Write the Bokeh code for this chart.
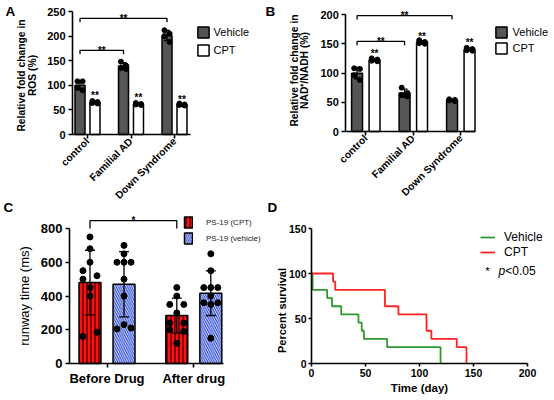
import numpy as np
from bokeh.plotting import figure
from bokeh.models import (ColumnDataSource, Whisker, TeeHead, FixedTicker, Legend,
                          LegendItem, Label, Range1d)
from bokeh.layouts import row, column
from bokeh.embed import file_html
from bokeh.resources import INLINE
from bokeh.core.properties import value

FONT = "Liberation Sans"
FONT_V = value(FONT)

# ---------------- data ----------------
cell_lines = ["control", "Familial AD", "Down Syndrome"]
ros_vehicle = [[108, 108, 95, 90], [148, 140, 135, 133], [212, 205, 200, 188]]
ros_cpt = [[68, 66, 64, 63], [64, 62, 61, 60], [63, 61, 60, 59]]
nad_vehicle = [[108, 107, 96, 88], [75, 66, 62, 60], [55, 54, 53, 52]]
nad_cpt = [[125, 123, 121, 120], [156, 153, 151, 150], [143, 141, 139, 138]]
ros_ticks = [0, 50, 100, 150, 200, 250]
nad_ticks = [0, 50, 100, 150, 200]
# significance: (group a, group b, bracket level) between vehicle bars; CPT star levels
ros_brackets = [(1, 3, 236), (1, 2, 171)]
ros_star_y = [80, 76, 72]
nad_brackets = [(1, 3, 198), (1, 2, 154)]
nad_star_y = [133, 163, 152]

phases = ["Before Drug", "After drug"]
runway_cpt = [[750, 680, 600, 550, 520, 500, 450, 400, 160, 185],
              [450, 400, 350, 350, 300, 240, 240, 200, 190, 120]]
runway_vehicle = [[700, 650, 600, 600, 600, 500, 400, 230, 205, 210],
                  [650, 550, 450, 450, 450, 400, 360, 360, 350, 150]]
runway_ticks = [0, 200, 400, 600, 800]
runway_bracket = 847

veh_days = [0, 1, 14.5, 19, 27.5, 43.5, 46.5, 48.5, 70, 119.5]
veh_surv = [100, 81.8, 72.7, 63.6, 54.5, 45.5, 36.4, 27.3, 18.2, 0]
cpt_days = [0, 20, 22, 68, 80.5, 106.5, 111, 134.5, 143.5]
cpt_surv = [100, 90.9, 81.8, 63.6, 54.5, 36.4, 27.3, 18.2, 0]
surv_xticks = [0, 50, 100, 150, 200]
surv_yticks = [0, 50, 100, 150]

# jitter slots for the dots (layout only)
jit4 = [-1, 1, -1, 1]
c_slots_cpt = [[0, 0, 0, -1, 1, -1, 0, 0, -1, 1], [0, 0, -1, 1, 0, -1, 1, -1, 1, 0]]
c_slots_veh = [[0, 0, -1, 0, 1, 0, 0, 0, -1, 1], [0, 0, -1, 0, 1, 0, -1, 1, 0, 0]]


class Geo:
    """pixel <-> data mapping of a panel whose frame fills the whole canvas"""
    def __init__(self, W, H, x_px, x_val, x_ppu, y_px, y_val, y_ppu):
        self.W, self.H = W, H
        self.x_px, self.x_val, self.x_ppu = x_px, x_val, x_ppu
        self.y_px, self.y_val, self.y_ppu = y_px, y_val, y_ppu

    def X(self, px):
        return self.x_val + (px - self.x_px) / self.x_ppu

    def Y(self, py):
        return self.y_val + (self.y_px - py) / self.y_ppu

    def fig(self):
        p = figure(width=self.W, height=self.H,
                   x_range=Range1d(self.X(0), self.X(self.W)),
                   y_range=Range1d(self.Y(self.H), self.Y(0)), title=None,
                   output_backend="svg", toolbar_location=None, min_border=0,
                   min_border_left=0, min_border_right=0, min_border_top=0,
                   min_border_bottom=0, background_fill_color="white",
                   border_fill_color="white")
        p.outline_line_color = None
        p.grid.visible = False
        for ax in p.axis:
            ax.axis_line_width = 1.6
            ax.axis_line_color = "black"
            ax.major_tick_line_width = 1.6
            ax.major_tick_line_color = "black"
            ax.major_tick_out = 4
            ax.major_tick_in = 0
            ax.minor_tick_out = 0
            ax.minor_tick_in = 0
            ax.major_label_text_font = FONT
            ax.major_label_text_font_style = "bold"
            ax.major_label_text_color = "black"
            ax.major_label_standoff = 3
            ax.axis_label_text_font = FONT
            ax.axis_label_text_font_style = "bold"
            ax.axis_label_text_color = "black"
        return p

    def label(self, p, txt, px, py, size, style="bold", align="left", angle=0.0,
              color="black", x_offset=0):
        p.add_layout(Label(x=self.X(px), y=self.Y(py), text=txt, angle=angle,
                           x_offset=x_offset, text_font=FONT, text_font_style=style,
                           text_font_size=size, text_align=align,
                           text_baseline="middle", text_color=color))

    def legend(self, p, items, left_px, top_px, gw, gh, spacing, standoff, size, color):
        n = len(items)
        h = n * gh + (n - 1) * spacing
        leg = Legend(items=items, location=(left_px, self.H - (top_px + h)),
                     orientation="vertical", padding=0, margin=0, spacing=spacing,
                     glyph_width=gw, glyph_height=gh, label_height=gh, label_width=10,
                     label_standoff=standoff, label_text_font=FONT,
                     label_text_font_size=size, label_text_color=color,
                     border_line_color=None, background_fill_alpha=0)
        p.add_layout(leg)


def bar_panel(g, y_max, ticks, axis_left_px, axis_end, off, bw, veh, cpt,
              ylabel_lines, ylabel_px, ylabel_py, brackets, star_y, leg_left, leg_top,
              leg_spacing, leg_standoff):
    p = g.fig()
    n = len(cell_lines)
    gx = np.arange(1, n + 1)
    x_axis_left = g.X(axis_left_px)
    p.xaxis.fixed_location = 0
    p.yaxis.fixed_location = x_axis_left
    p.xaxis.ticker = FixedTicker(ticks=list(gx))
    p.xaxis.bounds = (x_axis_left, axis_end)
    p.xaxis.major_label_overrides = {int(k): lab for k, lab in zip(gx, cell_lines)}
    p.xaxis.major_label_orientation = np.pi / 4
    p.xaxis.major_label_text_font_size = "10.3px"
    p.xaxis.major_label_standoff = 1
    p.yaxis.ticker = FixedTicker(ticks=ticks)
    p.yaxis.bounds = (0, y_max)
    p.yaxis.major_label_text_font_size = "11px"

    rends = []
    for vals, fill, sign in [(veh, "#555555", -1), (cpt, "white", 1)]:
        x = gx + sign * off
        means = [float(np.mean(v)) for v in vals]
        sds = [float(np.std(v, ddof=1)) for v in vals]
        r = p.vbar(x=x, top=means, width=bw, fill_color=fill, line_color="black",
                   line_width=1.5)
        rends.append(r)
        dx, dy = [], []
        for i, v in enumerate(vals):
            for j, val in enumerate(v):
                dx.append(x[i] + jit4[j % 4] * 0.06)
                dy.append(val)
        p.scatter(dx, dy, size=5, color="black")
        src = ColumnDataSource(dict(x=x, upper=np.array(means) + np.array(sds),
                                    lower=np.array(means) - np.array(sds)))
        p.add_layout(Whisker(source=src, base="x", upper="upper", lower="lower",
                             line_width=1.4, line_color="black", level="annotation",
                             upper_head=TeeHead(size=6, line_width=1.4, line_color="black"),
                             lower_head=TeeHead(size=6, line_width=1.4, line_color="black")))

    drop = y_max * 0.032
    bx, by, sx, sy = [], [], [], []
    for a, b, h in brackets:
        xa, xb = a - off, b - off
        bx.append([xa, xa, xb, xb])
        by.append([h - drop, h, h, h - drop])
        sx.append((xa + xb) / 2)
        sy.append(h)
    p.multi_line(bx, by, line_color="black", line_width=1.3)
    sx += list(gx + off)
    sy += list(star_y)
    p.text(x=sx, y=sy, text=["**"] * len(sx), text_font=FONT_V,
           text_font_size="10px", text_font_style="bold", text_align="center",
           text_baseline="alphabetic", text_color="black")

    for txt, px in zip(ylabel_lines, ylabel_px):
        g.label(p, txt, px, ylabel_py, "10.3px", align="center", angle=np.pi / 2)

    items = [LegendItem(label="Vehicle", renderers=[rends[0]]),
             LegendItem(label="CPT", renderers=[rends[1]])]
    g.legend(p, items, leg_left, leg_top, 14, 14, leg_spacing, leg_standoff, "11px", "black")
    return p


H_TOP, H_BOT, W_L, W_R = 200, 200, 277, 277

# ---------------- panel A ----------------
gA = Geo(W_L, H_TOP, 87, 1, 43.5, 134, 0, 123 / 250)
pA = bar_panel(gA, 250, ros_ticks, 72, 3.37, 0.172, 0.23, ros_vehicle, ros_cpt,
               ["Relative fold change in", "ROS (%)"], [21, 32], 75,
               ros_brackets, ros_star_y, 195.6, 25, 4, 4)
gA.label(pA, "A", 5, 11, "13.5px")
gA.label(pA, "B", 265, 11, "13.5px")

# ---------------- panel B ----------------
gB = Geo(W_R, H_TOP, 88.3, 1, 47.5, 131, 0, 117 / 200)
pB = bar_panel(gB, 200, nad_ticks, 68.3, 3.29, 0.184, 0.23, nad_vehicle, nad_cpt,
               ["Relative fold change in", "NAD\u207a/NADH (%)"], [17, 27], 70,
               nad_brackets, nad_star_y, 216.6, 25, 2, 5)

# ---------------- panel C ----------------
gC = Geo(W_L, H_BOT, 106.5, 1, 86.8, 163, 0, 135 / 800)
pC = gC.fig()
c_axis_left = gC.X(69)
pC.xaxis.fixed_location = 0
pC.yaxis.fixed_location = c_axis_left
pC.xaxis.ticker = FixedTicker(ticks=[1, 2])
pC.xaxis.major_label_overrides = {1: phases[0], 2: phases[1]}
pC.xaxis.bounds = (c_axis_left, 2.342)
pC.xaxis.major_label_text_font_size = "13px"
pC.yaxis.ticker = FixedTicker(ticks=runway_ticks)
pC.yaxis.bounds = (0, 800)
pC.yaxis.major_label_text_font_size = "13px"
pC.yaxis.axis_label = "runway time (ms)"
pC.yaxis.axis_label_text_font_style = "normal"
pC.yaxis.axis_label_text_font_size = "13px"
pC.yaxis.axis_label_standoff = 6

off_c, bw_c, jit_c = 0.196, 0.253, 0.081
gx = np.array([1, 2])
c_rends = []
specs = [(runway_cpt, c_slots_cpt, -1, "#ff1010", "vertical_line", "black", 4, 1.0),
         (runway_vehicle, c_slots_veh, 1, "#2a48d4", "left_diagonal_line", "white", 4.5, 0.9)]
for vals, slots, sign, fill, hp, hc, hs, hw in specs:
    x = gx + sign * off_c
    means = [float(np.mean(v)) for v in vals]
    sds = [float(np.std(v, ddof=1)) for v in vals]
    r = pC.vbar(x=x, top=means, width=bw_c, fill_color=fill, line_color="black",
                line_width=1.5, hatch_pattern=hp, hatch_color=hc, hatch_scale=hs,
                hatch_weight=hw)
    c_rends.append(r)
    dx, dy = [], []
    for i, v in enumerate(vals):
        for j, val in enumerate(v):
            dx.append(x[i] + slots[i][j] * jit_c)
            dy.append(val)
    pC.scatter(dx, dy, size=6, color="black")
    src = ColumnDataSource(dict(x=x, upper=np.array(means) + np.array(sds),
                                lower=np.array(means) - np.array(sds)))
    pC.add_layout(Whisker(source=src, base="x", upper="upper", lower="lower",
                          line_width=1.3, line_color="black", level="annotation",
                          upper_head=TeeHead(size=10, line_width=1.3, line_color="black"),
                          lower_head=TeeHead(size=10, line_width=1.3, line_color="black")))

xa, xb = 1 - off_c, 2 - off_c
pC.multi_line([[xa, xa, xb, xb]], [[800, runway_bracket, runway_bracket, 800]],
              line_color="black", line_width=1.3)
pC.text(x=[(xa + xb) / 2], y=[runway_bracket], text=["*"], text_font=FONT_V,
        text_font_size="10px", text_font_style="bold", text_align="center",
        text_baseline="alphabetic", text_color="black")
gC.legend(pC, [LegendItem(label="PS-19 (CPT)", renderers=[c_rends[0]]),
               LegendItem(label="PS-19 (vehicle)", renderers=[c_rends[1]])],
          183, 15.3, 10, 14, 2, 13, "8px", "#222222")
gC.label(pC, "C", 3, 6.5, "13.5px")
gC.label(pC, "D", 267, 6.5, "13.5px")

# ---------------- panel D ----------------
gD = Geo(W_R, H_BOT, 34, 0, 216 / 200, 163, 0, 135 / 150)
pD = gD.fig()
pD.xaxis.fixed_location = 0
pD.yaxis.fixed_location = 0
pD.xaxis.ticker = FixedTicker(ticks=surv_xticks)
pD.xaxis.bounds = (0, 200)
pD.yaxis.ticker = FixedTicker(ticks=surv_yticks)
pD.yaxis.bounds = (0, 150)
for ax in pD.axis:
    ax.major_label_text_font_size = "10.5px"
    ax.major_label_standoff = 2
    ax.major_tick_out = 3
pD.xaxis.axis_label = "Time (day)"
pD.xaxis.axis_label_text_font_size = "11.5px"
pD.xaxis.axis_label_standoff = 2
rv = pD.step(veh_days, veh_surv, mode="after", line_color="#2e9b2e", line_width=1.8)
rc = pD.step(cpt_days, cpt_surv, mode="after", line_color="#ff2222", line_width=1.8)
gD.legend(pD, [LegendItem(label="Vehicle", renderers=[rv]),
               LegendItem(label="CPT", renderers=[rc])],
          203, 30, 15, 14, 1, 9, "12px", "black")
gD.label(pD, "Percent survival", 4.5, 110, "11px", align="center", angle=np.pi / 2)
gD.label(pD, "*", 210, 70, "11.5px", style="normal", align="center")
gD.label(pD, "p", 221, 70, "12px", style="italic")
gD.label(pD, "<0.05", 221, 70, "12px", style="normal", x_offset=6.7)

layout = column(row(pA, pB), row(pC, pD))
open("out.html", "w").write(file_html(layout, INLINE))
